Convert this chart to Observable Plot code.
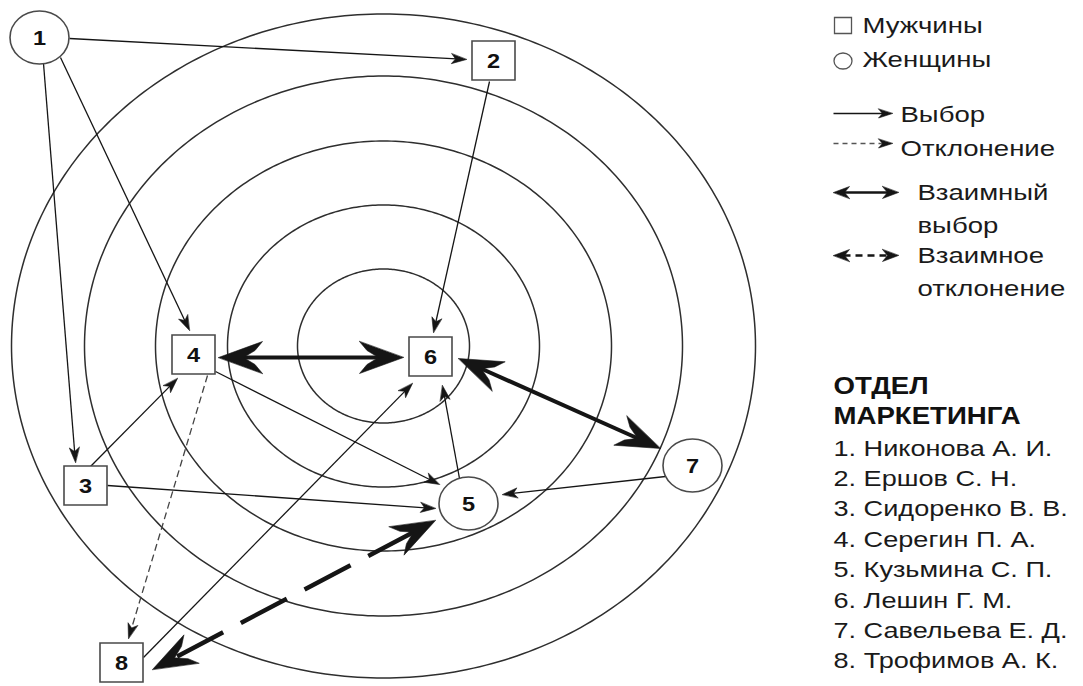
<!DOCTYPE html>
<html>
<head>
<meta charset="utf-8">
<script src="https://cdn.jsdelivr.net/npm/d3@7"></script>
<script src="https://cdn.jsdelivr.net/npm/@observablehq/plot@0.6"></script>
<style>
html,body{margin:0;padding:0;background:#fff;}
#chart svg{display:block;}
</style>
</head>
<body>
<div id="chart"></div>
<script>
// ---------------- data ----------------
const nodeIds = [1, 2, 3, 4, 5, 6, 7, 8];
const nodeGender = ["Ж", "М", "М", "М", "Ж", "М", "Ж", "М"];
const nodeX = [39, 493, 85, 193, 468, 430, 692, 121];
const nodeY = [37, 60, 485, 354, 503, 356, 465, 662];
const memberNames = ["Никонова А. И.", "Ершов С. Н.", "Сидоренко В. В.", "Серегин П. А.",
                     "Кузьмина С. П.", "Лешин Г. М.", "Савельева Е. Д.", "Трофимов А. К."];

const ringLevels = [1, 2, 3, 4, 5];
const ringRadiusX = [86, 156, 228, 299, 372];
const ringRadiusY = [77, 141, 205, 270, 332];
const ringCenter = [383, 345.5];

const edgeFrom = [1, 1, 1, 2, 3, 3, 4, 8, 5, 7, 4, 4, 6, 5];
const edgeTo   = [2, 3, 4, 6, 4, 5, 5, 6, 6, 5, 8, 6, 7, 8];
const edgeType = ["choice", "choice", "choice", "choice", "choice", "choice", "choice",
                  "choice", "choice", "choice", "rejection", "mutual-choice", "mutual-choice",
                  "mutual-rejection"];
const edgeStartX = [69, 43, 60, 489, 90, 107, 215, 143, 459, 665, 207, 218, 458, 435];
const edgeStartY = [38, 63, 57, 81, 466, 485, 371, 657, 478, 476, 375, 357, 358, 520];
const edgeEndX   = [466, 75, 189, 433, 177, 435, 439, 412, 442, 502, 128, 403, 660, 152];
const edgeEndY   = [59, 462, 330, 332, 378, 508, 484, 383, 385, 494, 638, 357, 448, 669];

const legendSymbolLabels = ["Мужчины", "Женщины"];
const legendLineTypes = ["choice", "rejection", "mutual-choice", "mutual-rejection"];
const legendLineLabels = [["Выбор"], ["Отклонение"], ["Взаимный", "выбор"], ["Взаимное", "отклонение"]];
const departmentTitle = ["ОТДЕЛ", "МАРКЕТИНГА"];

// ---------------- styles / layout ----------------
const INK = "#151515";
const FONT = "'Liberation Sans', Arial, Helvetica, sans-serif";
const typeStyle = {
  "choice":           {w: 1.3, dash: null,    color: INK,    both: false, head: {L: 15, W: 10, N: 11}},
  "rejection":        {w: 1.3, dash: "7,4",   color: "#444", both: false, head: {L: 15, W: 10, N: 11}},
  "mutual-choice":    {w: 4,   dash: null,    color: INK,    both: true,  head: {L: 44, W: 32, N: 25}},
  "mutual-rejection": {w: 4.5, dash: "52,20", color: INK,    both: true,  head: {L: 44, W: 32, N: 25}}
};
const legendStyle = {
  "choice":           {w: 1.3, dash: null,  color: INK,    both: false, head: {L: 14, W: 9, N: 10}},
  "rejection":        {w: 1.3, dash: "5,4", color: "#555", both: false, head: {L: 14, W: 9, N: 10}},
  "mutual-choice":    {w: 2.6, dash: null,  color: INK,    both: true,  head: {L: 16, W: 12, N: 11}},
  "mutual-rejection": {w: 2.6, dash: "7,5", color: INK,    both: true,  head: {L: 16, W: 12, N: 11}}
};

// ---------------- derived geometry ----------------
const nodes = nodeIds.map((id, i) => ({id, gender: nodeGender[i], x: nodeX[i], y: nodeY[i], name: memberNames[i]}));

const ringPts = [];
ringLevels.forEach((lvl, i) => {
  const n = 360;
  for (let k = 0; k < n; k++) {
    const t = 2 * Math.PI * k / n;
    ringPts.push({ring: lvl, x: ringCenter[0] + ringRadiusX[i] * Math.cos(t), y: ringCenter[1] + ringRadiusY[i] * Math.sin(t)});
  }
});

let headId = 0;
function headPolygon(tx, ty, fx, fy, h, concave) {
  const dx = tx - fx, dy = ty - fy, len = Math.hypot(dx, dy);
  const ux = dx / len, uy = dy / len, px = -uy, py = ux;
  const id = headId++;
  const P = (a, b) => ({id, x: tx - ux * a + px * b, y: ty - uy * a + py * b});
  const pts = [P(0, 0)];
  pts.push(P(h.L, h.W / 2));
  if (concave) pts.push(P((h.L + h.N) / 2 + 2, h.W * 0.25 - 1));
  pts.push(P(h.N, 0));
  if (concave) pts.push(P((h.L + h.N) / 2 + 2, -(h.W * 0.25 - 1)));
  pts.push(P(h.L, -h.W / 2));
  return pts;
}

function buildArrows(list, styles) {
  const shafts = [], heads = [];
  list.forEach(e => {
    const s = styles[e.type];
    const dx = e.x2 - e.x1, dy = e.y2 - e.y1, len = Math.hypot(dx, dy);
    const ux = dx / len, uy = dy / len;
    const cut = s.head.N - 1;
    const sx = s.both ? e.x1 + ux * cut : e.x1, sy = s.both ? e.y1 + uy * cut : e.y1;
    shafts.push({type: e.type, x1: sx, y1: sy, x2: e.x2 - ux * cut, y2: e.y2 - uy * cut});
    const concave = s.head.L > 20;
    heads.push(...headPolygon(e.x2, e.y2, e.x1, e.y1, s.head, concave).map(p => ({...p, type: e.type})));
    if (s.both) heads.push(...headPolygon(e.x1, e.y1, e.x2, e.y2, s.head, concave).map(p => ({...p, type: e.type})));
  });
  return {shafts, heads};
}

const edges = edgeFrom.map((f, i) => ({from: f, to: edgeTo[i], type: edgeType[i],
  x1: edgeStartX[i], y1: edgeStartY[i], x2: edgeEndX[i], y2: edgeEndY[i]}));
const chartArrows = buildArrows(edges, typeStyle);

// legend layout
const LX = 833;
const legendLineRows = [113, 143, 192, 255];
const legendLineEnds = [892, 892, 898, 898];
const legendEdges = legendLineTypes.map((t, i) => ({type: t,
  x1: LX, y1: legendLineRows[i], x2: legendLineEnds[i], y2: legendLineRows[i]}));
const legendArrows = buildArrows(legendEdges, legendStyle);

const legendSym = legendSymbolLabels.map((label, i) => ({label, gender: i === 0 ? "М" : "Ж", x: 842.5, y: i === 0 ? 25 : 60.5}));
const legendSymText = legendSymbolLabels.map((label, i) => ({label, x: 862, y: i === 0 ? 32 : 66}));
const legendLineTextX = [900, 900, 917, 917];
const legendLineTextY = [[121], [155], [199, 232], [262, 295]];
const legendLineText = [];
legendLineLabels.forEach((lines, i) => lines.forEach((l, j) =>
  legendLineText.push({label: l, x: legendLineTextX[i], y: legendLineTextY[i][j]})));

const titleText = departmentTitle.map((t, i) => ({label: t, x: LX, y: 393 + i * 30}));
const listText = nodes.map((n, i) => ({label: `${n.id}. ${n.name}`, x: LX, y: 455 + i * 30.4}));

// custom symbols
const rectSymbol = (w, h) => ({draw(ctx) { ctx.rect(-w / 2, -h / 2, w, h); }});
const ellipseSymbol = (rx, ry) => ({draw(ctx) {
  const k = 0.5523;
  ctx.moveTo(rx, 0);
  ctx.bezierCurveTo(rx, ry * k, rx * k, ry, 0, ry);
  ctx.bezierCurveTo(-rx * k, ry, -rx, ry * k, -rx, 0);
  ctx.bezierCurveTo(-rx, -ry * k, -rx * k, -ry, 0, -ry);
  ctx.bezierCurveTo(rx * k, -ry, rx, -ry * k, rx, 0);
  ctx.closePath();
}});

function arrowMarks(arrows, styles) {
  const marks = [];
  Object.keys(styles).forEach(t => {
    const s = styles[t];
    marks.push(Plot.link(arrows.shafts.filter(d => d.type === t), {
      x1: "x1", y1: "y1", x2: "x2", y2: "y2", stroke: s.color, strokeWidth: s.w,
      strokeDasharray: s.dash || undefined, strokeLinecap: "butt"
    }));
    marks.push(Plot.line(arrows.heads.filter(d => d.type === t), {
      x: "x", y: "y", z: "id", curve: "linear-closed", fill: INK, stroke: INK, strokeWidth: 0.6
    }));
  });
  return marks;
}

const chart = Plot.plot({
  width: 1083,
  height: 686,
  margin: 0,
  x: {domain: [0, 1083], range: [0, 1083], axis: null},
  y: {domain: [0, 686], range: [0, 686], axis: null},
  style: {background: "white"},
  marks: [
    Plot.line(ringPts, {x: "x", y: "y", z: "ring", curve: "linear-closed", stroke: "#2e2e2e", strokeWidth: 1.5}),
    ...arrowMarks(chartArrows, typeStyle),
    Plot.dot(nodes.filter(d => d.gender === "М"), {x: "x", y: "y", symbol: rectSymbol(43, 39), fill: "white", stroke: "#4a4a4a", strokeWidth: 1.6}),
    Plot.dot(nodes.filter(d => d.gender === "Ж"), {x: "x", y: "y", symbol: ellipseSymbol(29.5, 26.5), fill: "white", stroke: "#4a4a4a", strokeWidth: 1.6}),
    Plot.text(nodes, {x: "x", y: "y", text: d => String(d.id), fill: "#111", fontSize: 21, fontWeight: "bold", fontFamily: FONT, textAnchor: "middle", dy: 1}),
    // legend
    Plot.dot(legendSym.filter(d => d.gender === "М"), {x: "x", y: "y", symbol: rectSymbol(17, 16), fill: "white", stroke: "#555", strokeWidth: 1.3}),
    Plot.dot(legendSym.filter(d => d.gender === "Ж"), {x: "x", y: "y", symbol: ellipseSymbol(9, 8), fill: "white", stroke: "#555", strokeWidth: 1.3}),
    ...arrowMarks(legendArrows, legendStyle),
    Plot.text(legendSymText, {x: "x", y: "y", text: "label", fontSize: 21.2, fontFamily: FONT, fill: "#1a1a1a", textAnchor: "start", lineAnchor: "bottom"}),
    Plot.text(legendLineText, {x: "x", y: "y", text: "label", fontSize: 21.2, fontFamily: FONT, fill: "#1a1a1a", textAnchor: "start", lineAnchor: "bottom"}),
    Plot.text(titleText, {x: "x", y: "y", text: "label", fontSize: 23, fontWeight: "bold", fontFamily: FONT, fill: "#111", textAnchor: "start", lineAnchor: "bottom"}),
    Plot.text(listText, {x: "x", y: "y", text: "label", fontSize: 21.5, fontFamily: FONT, fill: "#1a1a1a", textAnchor: "start", lineAnchor: "bottom"})
  ]
});

document.getElementById("chart").append(chart);

// horizontal stretch of the typeface (the reference lettering is wide)
const stretchBySize = {"21": 1.12, "21.2": 1.3, "21.5": 1.26, "23": 1.2};
chart.querySelectorAll("text").forEach(t => {
  const g = t.closest("g[font-size]");
  const f = g ? stretchBySize[g.getAttribute("font-size")] : null;
  if (!f) return;
  const w = t.getComputedTextLength();
  t.setAttribute("textLength", (w * f).toFixed(1));
  t.setAttribute("lengthAdjust", "spacingAndGlyphs");
});
</script>
</body>
</html>
